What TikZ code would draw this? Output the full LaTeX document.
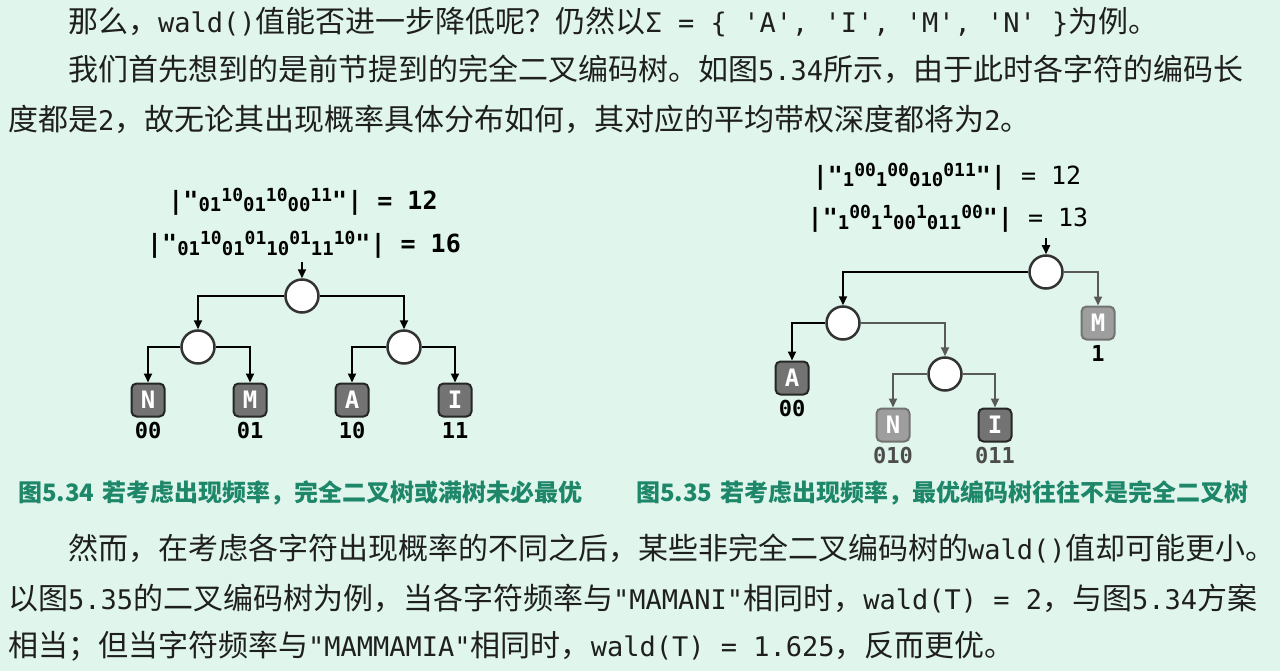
\documentclass[tikz,border=0pt]{standalone}
\usepackage{fontspec}
\setmainfont{Noto Sans CJK SC}
\setmonofont{DejaVu Sans Mono}
\usepackage{tikz}
\usetikzlibrary{arrows.meta}

\definecolor{pageBg}{RGB}{224,246,236}
\definecolor{capGreen}{RGB}{30,135,105}

\newcommand{\codeText}[1]{{\ttfamily\fontsize{27}{30}\selectfont #1}}
\newcommand{\codeLow}[1]{\raisebox{-2pt}{\fontsize{19}{19}\selectfont #1}}
\newcommand{\codeHigh}[1]{\raisebox{8pt}{\fontsize{18}{18}\selectfont #1}}

\begin{document}
\begin{tikzpicture}[x=1pt, y=1pt, node distance=51pt]
	\tikzstyle{body} = [anchor=base west, inner sep=0pt, text=black!88, font=\fontsize{30}{36}\selectfont]
	\tikzstyle{caption} = [anchor=base west, inner sep=0pt, text=capGreen, font=\bfseries\fontsize{24}{28}\selectfont]
	\tikzstyle{bits} = [anchor=base, inner sep=0pt, font=\ttfamily\bfseries\fontsize{25}{25}\selectfont]
	\tikzstyle{branch} = [circle, minimum size=33pt, inner sep=0pt, draw=black!80, line width=2.5pt, fill=white]
	\tikzstyle{leaf} = [rectangle, rounded corners=5pt, minimum size=33pt, inner sep=0pt, draw=black!85, line width=2pt, fill=black!55, text=white, font=\ttfamily\bfseries\fontsize{24}{24}\selectfont]
	\tikzstyle{faded} = [draw=black!55, fill=black!38]
	\tikzstyle{codelabel} = [node distance=30pt, inner sep=0pt, font=\ttfamily\bfseries\fontsize{22}{22}\selectfont]
	\tikzstyle{arrow} = [line width=2pt, -{Triangle[length=9pt,width=8pt]}]
	\tikzstyle{fadedarrow} = [arrow, draw=black!65]

	\useasboundingbox (0,0) rectangle (1280,-671);
	\fill [pageBg] (0,0) rectangle (1280,-671);

	% text above
	\node (para1) [body] at (68,-33) {那么，\codeText{wald()}值能否进一步降低呢？仍然以\codeText{Σ = \{ 'A', 'I', 'M', 'N' \}}为例。};
	\node (para2) [body] at (68,-81) {我们首先想到的是前节提到的完全二叉编码树。如图\codeText{5.34}所示，由于此时各字符的编码长};
	\node (para3) [body] at (8,-131) {度都是\codeText{2}，故无论其出现概率具体分布如何，其对应的平均带权深度都将为\codeText{2}。};

	% complete tree
	\node (bitsA1) [bits] at (303,-210) {|"\codeLow{01}\codeHigh{10}\codeLow{01}\codeHigh{10}\codeLow{00}\codeHigh{11}"| = 12};
	\node (bitsA2) [bits] at (304,-253) {|"\codeLow{01}\codeHigh{10}\codeLow{01}\codeHigh{01}\codeLow{10}\codeHigh{01}\codeLow{11}\codeHigh{10}"| = 16};
	\coordinate (entryA) at (302,-262);
	\node (rootA) [branch] at (302,-296) {};
	\node (innerAl) [branch, below of=rootA, xshift=-104pt] {};
	\node (innerAr) [branch, below of=rootA, xshift=102pt] {};
	\node (leafN) [leaf, below of=innerAl, xshift=-50pt, yshift=-2pt] {N};
	\node (leafM) [leaf, below of=innerAl, xshift=52pt, yshift=-2pt] {M};
	\node (leafA) [leaf, below of=innerAr, xshift=-52pt, yshift=-2pt] {A};
	\node (leafI) [leaf, below of=innerAr, xshift=51pt, yshift=-2pt] {I};
	\node (codeN) [codelabel, below of=leafN] {00};
	\node (codeM) [codelabel, below of=leafM] {01};
	\node (codeA) [codelabel, below of=leafA] {10};
	\node (codeI) [codelabel, below of=leafI] {11};
	\draw [arrow] (entryA) -- (rootA);
	\draw [arrow] (rootA) -| (innerAl);
	\draw [arrow] (rootA) -| (innerAr);
	\draw [arrow] (innerAl) -| (leafN);
	\draw [arrow] (innerAl) -| (leafM);
	\draw [arrow] (innerAr) -| (leafA);
	\draw [arrow] (innerAr) -| (leafI);

	% skewed tree
	\node (bitsB1) [bits] at (947,-185) {|"\codeLow{1}\codeHigh{00}\codeLow{1}\codeHigh{00}\codeLow{010}\codeHigh{011}"|{\mdseries{} = 12}};
	\node (bitsB2) [bits] at (948,-227) {|"\codeLow{1}\codeHigh{00}\codeLow{1}\codeHigh{1}\codeLow{00}\codeHigh{1}\codeLow{011}\codeHigh{00}"|{\mdseries{} = 13}};
	\coordinate (entryB) at (1046,-238);
	\node (rootB) [branch] at (1046,-272) {};
	\node (innerBl) [branch, below of=rootB, xshift=-203pt] {};
	\node (leafM2) [leaf, faded, below of=rootB, xshift=52pt] {M};
	\node (leafA2) [leaf, below of=innerBl, xshift=-51pt, yshift=-4pt] {A};
	\node (innerBr) [branch, below of=innerBl, xshift=102pt] {};
	\node (leafN2) [leaf, faded, below of=innerBr, xshift=-52pt] {N};
	\node (leafI2) [leaf, below of=innerBr, xshift=50pt] {I};
	\node (codeM2) [codelabel, below of=leafM2] {1};
	\node (codeA2) [codelabel, below of=leafA2] {00};
	\node (codeN2) [codelabel, text=black!70, below of=leafN2] {010};
	\node (codeI2) [codelabel, text=black!70, below of=leafI2] {011};
	\draw [arrow] (entryB) -- (rootB);
	\draw [arrow] (rootB) -| (innerBl);
	\draw [fadedarrow] (rootB) -| (leafM2);
	\draw [arrow] (innerBl) -| (leafA2);
	\draw [fadedarrow] (innerBl) -| (innerBr);
	\draw [fadedarrow] (innerBr) -| (leafN2);
	\draw [fadedarrow] (innerBr) -| (leafI2);

	% captions
	\node (capA) [caption] at (18,-501) {图5.34\hspace{8pt}若考虑出现频率，完全二叉树或满树未必最优};
	\node (capB) [caption] at (636,-501) {图5.35\hspace{8pt}若考虑出现频率，最优编码树往往不是完全二叉树};

	% text below
	\node (para4) [body] at (68,-559) {然而，在考虑各字符出现概率的不同之后，某些非完全二叉编码树的\codeText{wald()}值却可能更小。};
	\node (para5) [body] at (8,-609) {以图\codeText{5.35}的二叉编码树为例，当各字符频率与\codeText{"MAMANI"}相同时，\codeText{wald(T) = 2}，与图\codeText{5.34}方案};
	\node (para6) [body] at (8,-656) {相当；但当字符频率与\codeText{"MAMMAMIA"}相同时，\codeText{wald(T) = 1.625}，反而更优。};
\end{tikzpicture}
\end{document}
